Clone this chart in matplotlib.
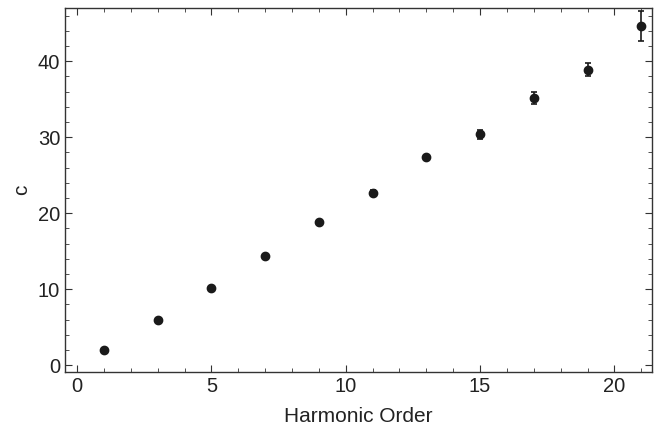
import matplotlib
matplotlib.use("Agg")
import matplotlib.pyplot as plt
from matplotlib.ticker import MultipleLocator

harmonic = [1, 3, 5, 7, 9, 11, 13, 15, 17, 19, 21]
c_vals = [2.0, 6.0, 10.1, 14.3, 18.9, 22.6, 27.4, 30.4, 35.2, 38.9, 44.6]
c_err = [0.1, 0.1, 0.1, 0.15, 0.2, 0.4, 0.3, 0.6, 0.8, 0.8, 2.0]

plt.rcParams['font.family'] = ['Liberation Sans', 'DejaVu Sans']
fig = plt.figure(figsize=(6.56, 4.33), dpi=100)
ax = fig.add_axes([65/656, 1-372/433, (652-65)/656, (372-8)/433])
ax.errorbar(harmonic, c_vals, yerr=c_err, fmt='o', color='#1a1a1a', ms=6,
            elinewidth=1.2, capsize=2.5, capthick=1.2)
ax.set_xlim(-0.45, 21.4)
ax.set_ylim(-0.9, 47)
ax.xaxis.set_major_locator(MultipleLocator(5))
ax.xaxis.set_minor_locator(MultipleLocator(1))
ax.yaxis.set_major_locator(MultipleLocator(10))
ax.yaxis.set_minor_locator(MultipleLocator(2))
ax.tick_params(which='both', direction='in', top=True, right=True, colors='#333333',
               labelcolor='#222222', labelsize=14.5)
ax.tick_params(which='major', length=5, width=0.8)
ax.tick_params(which='minor', length=3, width=0.6)
for s in ax.spines.values():
    s.set_color('#333333')
    s.set_linewidth(1.0)
ax.set_xlabel('Harmonic Order', fontsize=15, color='#222222', labelpad=8)
ax.set_ylabel('c', fontsize=15, color='#222222', labelpad=5)
fig.savefig('out.png', dpi=100)
